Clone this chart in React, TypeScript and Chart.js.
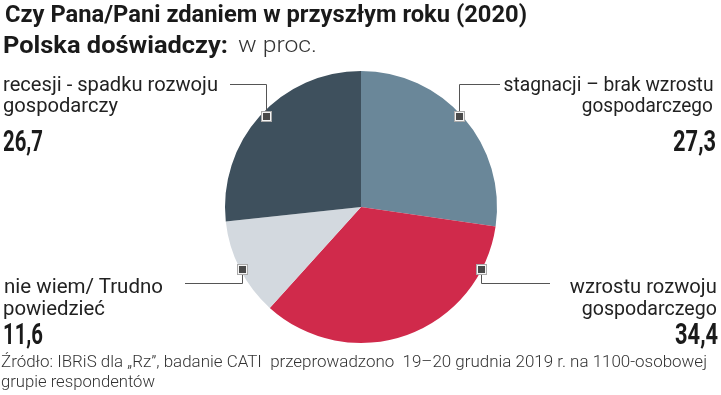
import React, { useEffect, useRef, useLayoutEffect } from "react";
import { Chart, registerables } from "chart.js";

Chart.register(...registerables);

const categories = [
  "stagnacji – brak wzrostu gospodarczego",
  "wzrostu rozwoju gospodarczego",
  "nie wiem/ Trudno powiedzieć",
  "recesji - spadku rozwoju gospodarczy",
];
const values = [27.3, 34.4, 11.6, 26.7];
const valueLabels = ["27,3", "34,4", "11,6", "26,7"];
const colors = ["#6a8799", "#d02a4b", "#d3d9df", "#3e505d"];

const W = 721;
const H = 395;

// leader geometry: angle (deg clockwise from top), radial fraction, elbow y, end x
const leaders = [
  { slice: 0, angle: 47, frac: 0.983, elbowY: 84, endX: 500 },
  { slice: 1, angle: 117.3, frac: 0.99, elbowY: 283, endX: 550 },
  { slice: 2, angle: 242.5, frac: 0.985, elbowY: 283, endX: 185 },
  { slice: 3, angle: 313.8, frac: 0.967, elbowY: 84, endX: 230 },
];

const leaderPlugin = {
  id: "leaders",
  afterDraw(chart: any) {
    const ctx = chart.ctx;
    const meta = chart.getDatasetMeta(0);
    leaders.forEach((l) => {
      const arc = meta.data[l.slice];
      if (!arc) return;
      const { x, y, outerRadius } = arc.getProps(["x", "y", "outerRadius"], true);
      const a = (l.angle * Math.PI) / 180;
      const mx = Math.round(x + Math.sin(a) * outerRadius * l.frac);
      const my = Math.round(y - Math.cos(a) * outerRadius * l.frac);
      ctx.save();
      ctx.strokeStyle = "#555";
      ctx.lineWidth = 1;
      ctx.beginPath();
      ctx.moveTo(mx + 0.5, my);
      ctx.lineTo(mx + 0.5, l.elbowY + 0.5);
      ctx.lineTo(l.endX, l.elbowY + 0.5);
      ctx.stroke();
      ctx.fillStyle = "#f4f4f4";
      ctx.fillRect(mx - 5, my - 5, 11, 11);
      ctx.strokeStyle = "#aaa";
      ctx.strokeRect(mx - 4.5, my - 4.5, 10, 10);
      ctx.fillStyle = "#4a4a4a";
      ctx.fillRect(mx - 3, my - 3, 7, 7);
      ctx.restore();
    });
  },
};

type FitProps = {
  text: string;
  x: number; // left or right edge
  baseline: number;
  width: number;
  size: number;
  weight?: number;
  color?: string;
  align?: "left" | "right";
};

function FitText({ text, x, baseline, width, size, weight = 400, color = "#1e1e1e", align = "left" }: FitProps) {
  const ref = useRef<HTMLSpanElement>(null);
  useLayoutEffect(() => {
    const el = ref.current;
    if (!el) return;
    el.style.transform = "none";
    const w = el.getBoundingClientRect().width;
    if (w > 0) el.style.transform = `scaleX(${width / w})`;
  });
  const top = baseline - 0.842 * size;
  const style: React.CSSProperties = {
    position: "absolute",
    top,
    whiteSpace: "pre",
    fontFamily: "Roboto, 'Noto Sans', sans-serif",
    fontSize: size,
    lineHeight: `${size}px`,
    fontWeight: weight,
    color,
    transformOrigin: align === "left" ? "left center" : "right center",
  };
  if (align === "left") style.left = x;
  else style.right = W - x;
  return (
    <span ref={ref} style={style}>
      {text}
    </span>
  );
}

export default function App() {
  const canvasRef = useRef<HTMLCanvasElement>(null);

  useEffect(() => {
    document.body.style.margin = "0";
    const canvas = canvasRef.current;
    if (!canvas) return;
    const chart = new Chart(canvas, {
      type: "pie",
      data: {
        labels: categories,
        datasets: [
          {
            data: values,
            backgroundColor: colors,
            borderWidth: 0,
          },
        ],
      },
      options: {
        responsive: false,
        animation: false,
        devicePixelRatio: 1,
        layout: { padding: { top: 71, bottom: 52, left: 225, right: 224 } },
        plugins: {
          legend: { display: false },
          tooltip: { enabled: false },
          title: { display: false },
        },
      },
      plugins: [leaderPlugin],
    });
    return () => chart.destroy();
  }, []);

  return (
    <div style={{ position: "relative", width: W, height: H, background: "#fff", overflow: "hidden" }}>
      <canvas ref={canvasRef} width={W} height={H} style={{ position: "absolute", left: 0, top: 0 }} />
      <FitText text="Czy Pana/Pani zdaniem w przyszłym roku (2020)" x={5} baseline={22} width={522} size={24} weight={700} color="#1a1a1a" />
      <FitText text="Polska doświadczy:" x={3} baseline={53} width={225} size={23} weight={700} color="#1a1a1a" />
      <FitText text="w proc." x={238} baseline={53} width={79} size={22} weight={300} color="#333" />

      <FitText text="recesji - spadku rozwoju" x={3} baseline={91} width={215} size={20} color="#222" />
      <FitText text="gospodarczy" x={3} baseline={112} width={115} size={20} color="#222" />
      <FitText text={valueLabels[3]} x={3} baseline={151} width={40} size={29} weight={700} color="#1a1a1a" />

      <FitText text="stagnacji – brak wzrostu" x={713} baseline={91} width={210} size={20} color="#222" align="right" />
      <FitText text="gospodarczego" x={713} baseline={112} width={131} size={20} color="#222" align="right" />
      <FitText text={valueLabels[0]} x={716} baseline={151} width={43} size={29} weight={700} color="#1a1a1a" align="right" />

      <FitText text="nie wiem/ Trudno" x={4} baseline={293} width={159} size={20} color="#222" />
      <FitText text="powiedzieć" x={3} baseline={315} width={102} size={20} color="#222" />
      <FitText text={valueLabels[2]} x={3} baseline={344} width={40} size={29} weight={700} color="#1a1a1a" />

      <FitText text="wzrostu rozwoju" x={717} baseline={293} width={147} size={20} color="#222" align="right" />
      <FitText text="gospodarczego" x={717} baseline={315} width={135} size={20} color="#222" align="right" />
      <FitText text={valueLabels[1]} x={718} baseline={344} width={43} size={29} weight={700} color="#1a1a1a" align="right" />

      <FitText
        text="Źródło: IBRiS dla „Rz”, badanie CATI  przeprowadzono  19–20 grudnia 2019 r. na 1100-osobowej"
        x={1}
        baseline={367}
        width={706}
        size={16}
        weight={300}
        color="#333"
      />
      <FitText text="grupie respondentów" x={1} baseline={387} width={154} size={16} weight={300} color="#333" />
    </div>
  );
}
